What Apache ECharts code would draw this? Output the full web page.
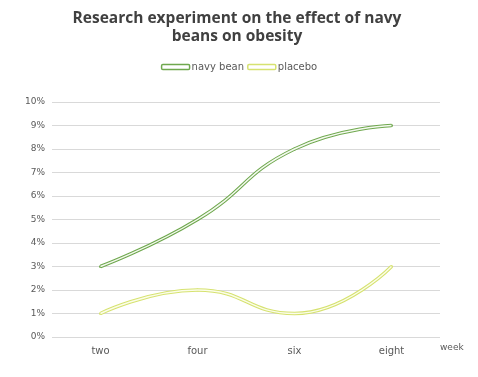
<!DOCTYPE html>
<html>
<head>
<meta charset="utf-8">
<script src="https://cdn.jsdelivr.net/npm/echarts@6/dist/echarts.min.js"></script>
<style>
  html, body { margin: 0; padding: 0; background: #fff; }
  #chart { width: 478px; height: 377px; }
</style>
</head>
<body>
<div id="chart"></div>
<script>
var weeks = ['two', 'four', 'six', 'eight'];
var navyBean = [3, 5, 8, 9];
var placebo = [1, 2, 1, 3];

var chart = echarts.init(document.getElementById('chart'));

// each line is drawn twice: a coloured outline and a thin light core
function doubleLine(name, values, edge, core) {
  return [
    {
      name: name, type: 'line', data: values, smooth: true,
      symbol: 'circle', symbolSize: 3, showSymbol: true,
      itemStyle: { color: edge },
      lineStyle: { color: edge, width: 3.6 },
      z: 2
    },
    {
      name: name, type: 'line', data: values, smooth: true,
      symbol: 'none',
      lineStyle: { color: core, width: 1.4 },
      z: 3
    }
  ];
}

var option = {
  animation: false,
  title: {
    text: 'Research experiment on the effect of navy\nbeans on obesity',
    left: 232, top: 5, textAlign: 'center',
    textStyle: { fontFamily: 'Open Sans', fontWeight: 'bold', fontSize: 15.5, color: '#404040', lineHeight: 18 }
  },
  legend: {
    top: 57, left: 'center',
    itemWidth: 28, itemHeight: 5, itemGap: 3,
    icon: 'roundRect',
    textStyle: { fontFamily: 'DejaVu Sans', fontSize: 10, color: '#595959', padding: [0, 0, 0, -3] },
    data: [
      { name: 'navy bean', itemStyle: { color: '#ffffff', borderColor: '#6fa84e', borderWidth: 1.5 } },
      { name: 'placebo', itemStyle: { color: '#ffffff', borderColor: '#d6e270', borderWidth: 1.5 } }
    ]
  },
  grid: { left: 52, right: 38, top: 102, bottom: 40, containLabel: false },
  xAxis: {
    type: 'category', data: weeks,
    name: 'week', nameLocation: 'end', nameGap: 0,
    nameTextStyle: { fontFamily: 'DejaVu Sans', fontSize: 9, color: '#595959', verticalAlign: 'top', padding: [6, 0, 0, 0] },
    axisLine: { show: false }, axisTick: { show: false },
    axisLabel: { fontFamily: 'DejaVu Sans', fontSize: 10, color: '#595959', margin: 9 }
  },
  yAxis: {
    type: 'value', min: 0, max: 10, interval: 1,
    axisLine: { show: false }, axisTick: { show: false },
    axisLabel: { formatter: '{value}%', fontFamily: 'DejaVu Sans', fontSize: 9, color: '#595959', margin: 7 },
    splitLine: { lineStyle: { color: '#d9d9d9', width: 1 } }
  },
  series: [].concat(
    doubleLine('navy bean', navyBean, '#6fa84e', '#f4f9ef'),
    doubleLine('placebo', placebo, '#d6e270', '#fbfde9')
  )
};
chart.setOption(option);
</script>
</body>
</html>
